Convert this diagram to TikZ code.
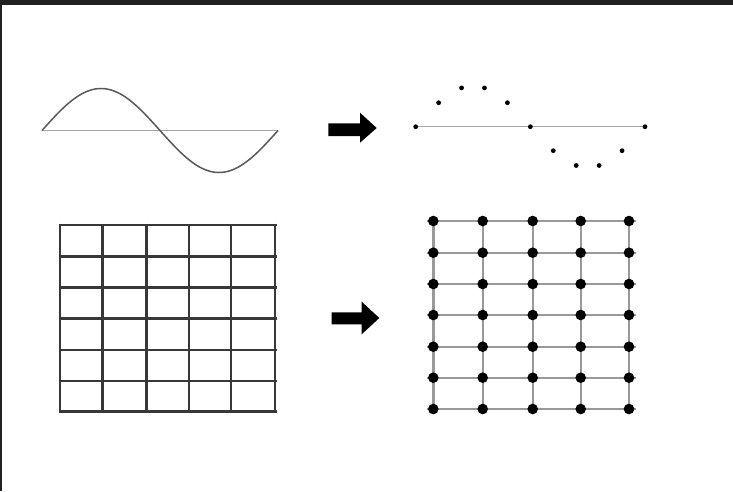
\documentclass[tikz,border=0pt]{standalone}
\begin{document}
\begin{tikzpicture}[x=1pt,y=-1pt,
  frame/.style={fill=black!87},
  wave/.style={draw=black!65,line width=1.5pt},
  axisline/.style={draw=black!35,line width=1.3pt},
  sampdot/.style={fill=black},
  gridline/.style={draw=black!78,line width=2.8pt},
  lightgrid/.style={draw=black!40,line width=2.4pt},
  bigdot/.style={fill=black},
  fatarrow/.style={fill=black}]
\useasboundingbox (0,0) rectangle (733,491);
\fill[white] (0,0) rectangle (733,491);
% dark frame
\fill[frame] (0,0) rectangle (733,5);
\fill[frame] (0,0) rectangle (2,491);
% continuous sine
\draw[axisline] (42,130.5) -- (278,130.5);
\draw[wave,domain=0:236,samples=120,smooth] plot ({42+\x},{130.5-42*sin(\x/236*360)});
% sampled sine
\draw[axisline] (415.7,126.7) -- (645,126.7);
\foreach \k in {0,...,10}{
  \fill[sampdot] ({415.7+\k*22.93},{126.7-40.8*sin(\k*36)}) circle (2.4);
}
% arrows
\fill[fatarrow] (328.3,123.3) -- (360,123.3) -- (360,112.7) -- (376.7,128) -- (360,142.7) -- (360,136) -- (328.3,136) -- cycle;
\fill[fatarrow] (331.7,312.3) -- (361.7,312.3) -- (361.7,301.7) -- (379.3,318) -- (361.7,334.3) -- (361.7,324.3) -- (331.7,324.3) -- cycle;
% continuous grid
\foreach \xx in {60,102.3,146.7,189,231,275}{
  \draw[gridline] (\xx,223.5) -- (\xx,413);
}
\foreach \yy in {225,256.7,287.7,318.7,350,381,411.7}{
  \draw[gridline] (58.5,\yy) -- (276.5,\yy);
}
% sampled grid
\foreach \xx in {433.3,482.7,532.7,580.7,629}{
  \draw[lightgrid] (\xx,221) -- (\xx,409);
}
\foreach \yy in {221,252.7,284,315,346.7,377.7,409}{
  \draw[lightgrid] (427,\yy) -- (636,\yy);
  \foreach \xx in {433.3,482.7,532.7,580.7,629}{
    \fill[bigdot] (\xx,\yy) circle (5.3);
  }
}
\end{tikzpicture}
\end{document}
